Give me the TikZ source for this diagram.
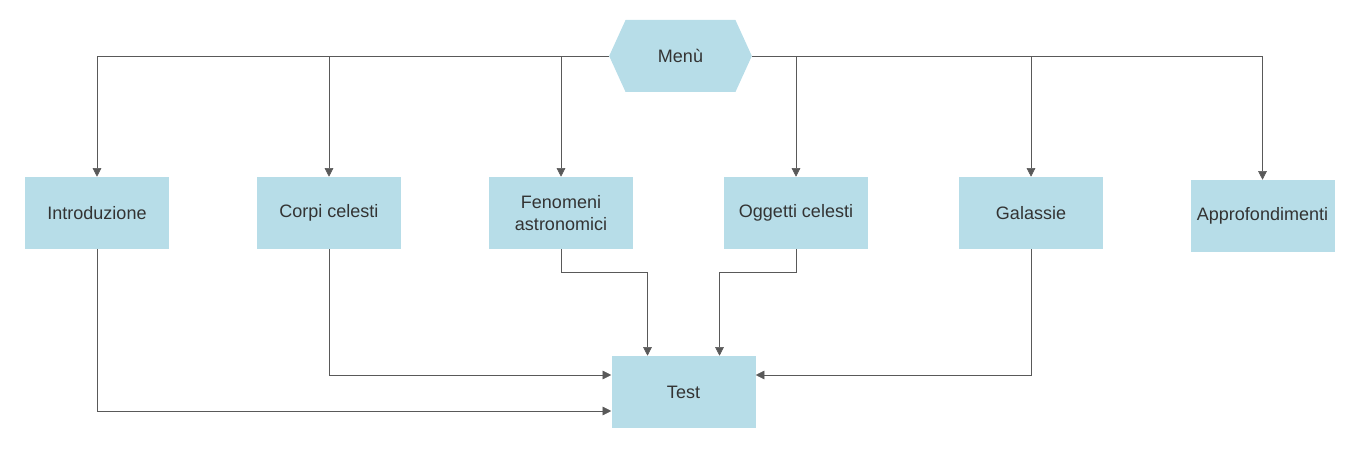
\documentclass[tikz,border=0pt]{standalone}
\usepackage{fontspec}
\setmainfont{Liberation Sans}
\usepackage{xcolor}
\usepackage{tikz}
\usetikzlibrary{arrows.meta,shapes.symbols}

\definecolor{boxfill}{HTML}{B7DDE8}
\definecolor{boxtext}{HTML}{333333}
\definecolor{linegray}{HTML}{595959}

\begin{document}
\begin{tikzpicture}[x=0.75pt,y=-0.75pt,
box/.style={rectangle,fill=boxfill,text=boxtext,minimum width=108pt,minimum height=54pt,
  inner sep=0pt,align=center,font=\fontsize{13.5}{16}\selectfont},
hexa/.style={signal,signal to=east and west,signal pointer angle=131,fill=boxfill,
  text=boxtext,minimum width=107pt,minimum height=54pt,inner sep=0pt,font=\fontsize{13.5}{16}\selectfont},
myedge/.style={-{Triangle[length=6.5pt,width=6.5pt]},draw=linegray,thin}]
\useasboundingbox (0,0) rectangle (1372,452);
\node[hexa] (menu) at (680.5,56) {Menù};
\node[box] (intro) at (97,213) {Introduzione};
\node[box] (corpi) at (329,213) {Corpi celesti};
\node[box] (fen) at (561,213) {Fenomeni\\astronomici};
\node[box] (ogg) at (796,213) {Oggetti celesti};
\node[box] (gal) at (1031,213) {Galassie};
\node[box] (appr) at (1262.5,216) {Approfondimenti};
\node[box] (test) at (683.5,392) {Test};
% dal menu
\draw[myedge] (menu.west) -| (intro.north);
\draw[myedge] (menu.west) -| (corpi.north);
\draw[myedge] (menu.west) -| (fen.north);
\draw[myedge] (menu.east) -| (ogg.north);
\draw[myedge] (menu.east) -| (gal.north);
\draw[myedge] (menu.east) -| (appr.north);
% verso il test
\draw[myedge] (intro.south) |- ([yshift=-14.25pt]test.west);
\draw[myedge] (corpi.south) |- ([yshift=12.75pt]test.west);
\draw[myedge] (fen.south) -- (561,272) -| ([xshift=-27pt]test.north);
\draw[myedge] (ogg.south) -- (796,272) -| ([xshift=27pt]test.north);
\draw[myedge] (gal.south) |- ([yshift=12.75pt]test.east);
\end{tikzpicture}
\end{document}
